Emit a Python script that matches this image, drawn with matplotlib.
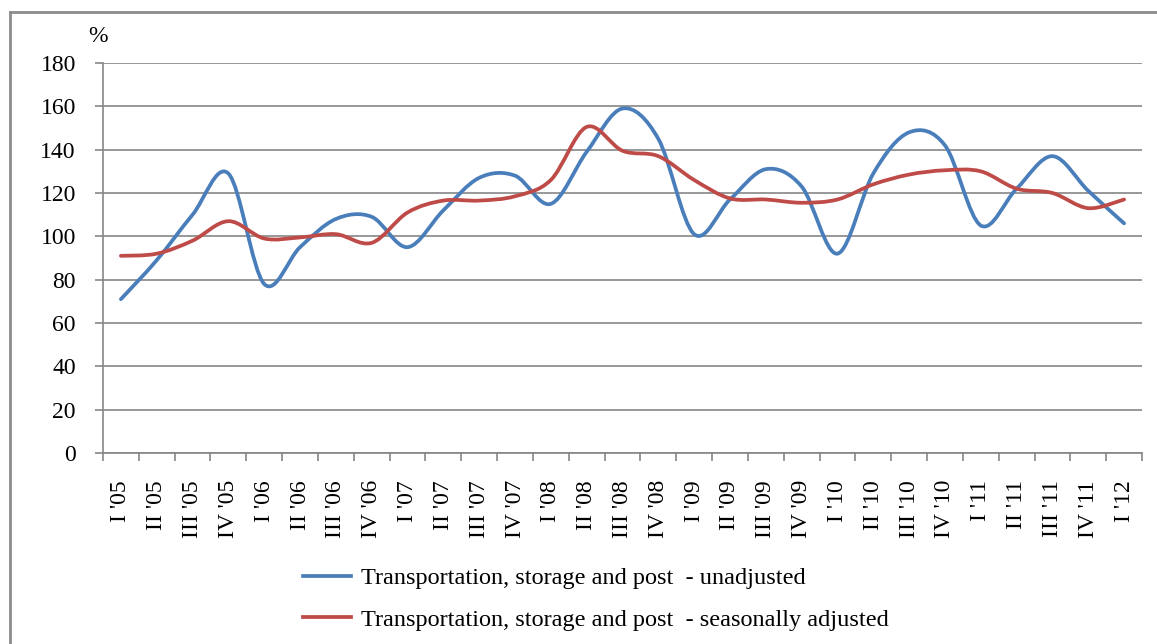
import matplotlib
matplotlib.use("Agg")
import matplotlib.pyplot as plt
from matplotlib.path import Path
from matplotlib.patches import PathPatch
from matplotlib.lines import Line2D
import numpy as np

categories = ["I '05", "II '05", "III '05", "IV '05",
              "I '06", "II '06", "III '06", "IV '06",
              "I '07", "II '07", "III '07", "IV '07",
              "I '08", "II '08", "III '08", "IV '08",
              "I '09", "II '09", "III '09", "IV '09",
              "I '10", "II '10", "III '10", "IV '10",
              "I '11", "II '11", "III '11", "IV '11",
              "I '12"]

unadjusted = [71, 89, 110, 129,
              78, 95, 108, 109,
              95, 112, 127, 128,
              115, 139, 159, 145,
              101, 117, 131, 123,
              92, 129, 148, 142,
              105, 122, 137, 121,
              106]

seasonally_adjusted = [91, 92, 98, 107,
                       99, 99.5, 101, 97,
                       111, 116.5, 116.5, 118.5,
                       126, 150.5, 139.5, 137,
                       126, 117.5, 117, 115.5,
                       117, 124, 128.5, 130.5,
                       130, 122, 120, 113,
                       117]

label_unadj = "Transportation, storage and post  - unadjusted"
label_sa = "Transportation, storage and post  - seasonally adjusted"
yticks = [0, 20, 40, 60, 80, 100, 120, 140, 160, 180]

BLUE = "#4A7EBB"
RED = "#BE4B48"
GRAY = "#868686"
SERIF = ["Liberation Serif", "DejaVu Serif"]


def smooth_path(xs, ys):
    """Excel-like smoothed line: cubic Bezier segments through the data points."""
    pts = np.column_stack([xs, ys]).astype(float)
    n = len(pts)
    verts = [pts[0]]
    codes = [Path.MOVETO]
    for i in range(n - 1):
        p0 = pts[i - 1] if i > 0 else pts[i]
        p1 = pts[i]
        p2 = pts[i + 1]
        p3 = pts[i + 2] if i + 2 < n else pts[i + 1]
        c1 = p1 + (p2 - p0) / 6.0
        c2 = p2 - (p3 - p1) / 6.0
        verts += [c1, c2, p2]
        codes += [Path.CURVE4] * 3
    return Path(verts, codes)


fig = plt.figure(figsize=(11.57, 6.44), dpi=100)
ax = fig.add_axes([103 / 1157, 1 - 453 / 644, (1142 - 103) / 1157, 390 / 644])

x = np.arange(len(categories))
for vals, col in [(unadjusted, BLUE), (seasonally_adjusted, RED)]:
    patch = PathPatch(smooth_path(x, vals), facecolor="none", edgecolor=col,
                      lw=2.7, capstyle="round", joinstyle="round", zorder=3)
    ax.add_patch(patch)

ax.set_xlim(-0.5, len(categories) - 0.5)
ax.set_ylim(0, 180)
ax.set_yticks(yticks)
ax.set_yticklabels([str(v) for v in yticks], fontfamily=SERIF, fontsize=17)
ax.yaxis.grid(True, color=GRAY, lw=1.2)
ax.set_axisbelow(True)

# category boundary ticks (major) and labels at centers (minor)
ax.set_xticks(np.arange(-0.5, len(categories), 1.0))
ax.set_xticklabels([])
ax.set_xticks(x, minor=True)
ax.set_xticklabels(categories, minor=True, rotation=90, fontfamily=SERIF,
                   fontsize=17)
ax.tick_params(axis="x", which="major", length=6, color=GRAY, width=1.2, direction="out")
ax.tick_params(axis="x", which="minor", length=0, pad=19.5)
ax.tick_params(axis="y", length=6, color=GRAY, width=1.2, pad=13.5)

for s in ["top", "right"]:
    ax.spines[s].set_visible(False)
for s in ["left", "bottom"]:
    ax.spines[s].set_color(GRAY)
    ax.spines[s].set_linewidth(1.2)

fig.text(98 / 1157, 1 - 37 / 644, "%", fontfamily=SERIF, fontsize=17,
         ha="center", va="center")

handles = [Line2D([], [], color=BLUE, lw=2.7), Line2D([], [], color=RED, lw=2.7)]
fig.legend(handles, [label_unadj, label_sa], loc="center",
           bbox_to_anchor=(596 / 1157, 1 - 599 / 644), frameon=False,
           prop={"family": SERIF, "size": 17.5}, handlelength=1.95,
           handletextpad=0.42, labelspacing=0.8)

# outer chart border (left and top visible)
fig.add_artist(Line2D([10 / 1157, 10 / 1157], [0, 1 - 12 / 644], transform=fig.transFigure,
                      color="#8c8c8c", lw=2))
fig.add_artist(Line2D([10 / 1157, 1], [1 - 12 / 644, 1 - 12 / 644], transform=fig.transFigure,
                      color="#8c8c8c", lw=2))

fig.savefig("out.png", dpi=100, facecolor="white")
